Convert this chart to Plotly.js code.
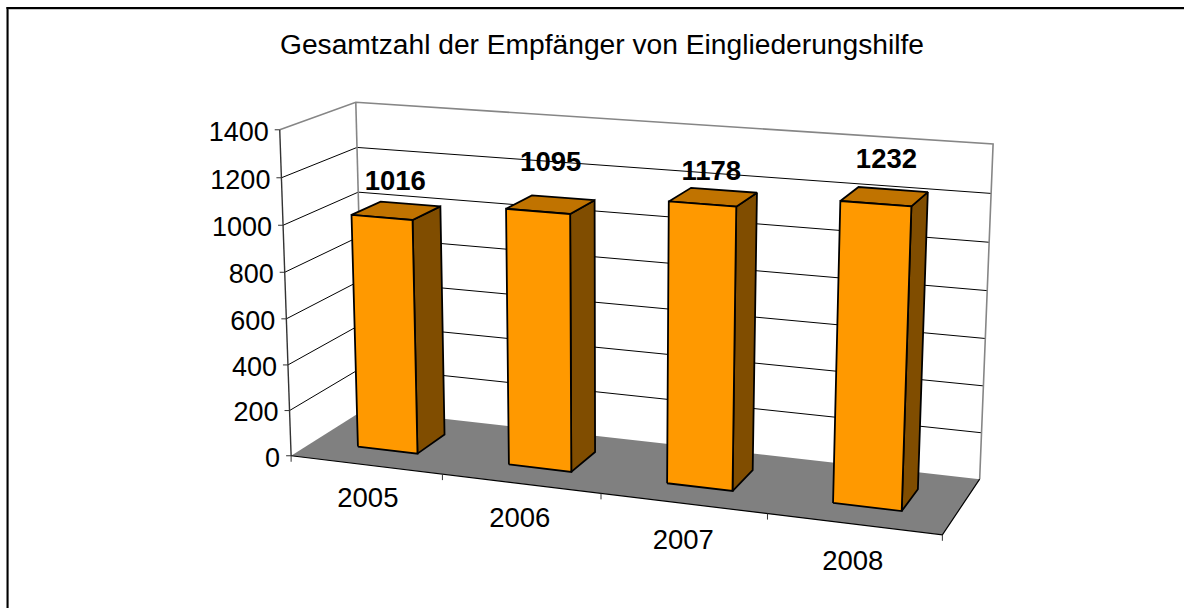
<!DOCTYPE html>
<html><head><meta charset="utf-8">
<script src="https://cdn.plot.ly/plotly-3.0.1.min.js"></script>
<style>html,body{margin:0;padding:0;background:#fff}#c{width:1184px;height:609px}</style>
</head><body><div id="c"></div>
<script>
// ---- chart data ----
const years = ['2005','2006','2007','2008'];
const values = [1016,1095,1178,1232];
const valueTicks = [0,200,400,600,800,1000,1200,1400];
const chartTitle = 'Gesamtzahl der Empfänger von Eingliederungshilfe';
// ---- placement of data labels relative to the bar-top centre (pixels) ----
const labelShiftY = [-28,-40,-24,-35];
const labelShiftX = [-1,0,-2,2];
const yearShiftX = [2,-1,0,-1];
const yearShiftY = [35,36,39,39];

const COL = {front:'#FF9900', top:'#C07300', side:'#804D00', floor:'#808080', wall:'#868686', ink:'#000000', axis:'#333333'};
const FONT = '"Liberation Sans", Arial, sans-serif';
const W = 1184, H = 609, VMAX = 1400, N = years.length;
const U0=.3,U1=.7,V0=.3,V1=.7;

// Perspective camera of the 3-D box, calibrated on box corners, ticks and bar corners.
const calib = [
 [0,0,0,292,457],[4,0,0,942,535],[4,1,0,979,479],[0,1,0,357,413],
 [0,0,1400,278,131],[0,1,1400,358,102],[4,1,1400,994,144],
 [1,0,0,443,475],[2,0,0,601,495],[3,0,0,768,516],
 [0,1,1200,358,148],[0,1,1000,360,193],
 [0,0,1200,280,177],[0,0,1000,282,225],[0,0,800,285,272],[0,0,600,287,318],[0,0,400,288,365],[0,0,200,290,409],
 [U0,V0,1016,352,216],[U1,V0,1016,412,220],[U1,V1,1016,441,207],[U0,V1,1016,380,202],
 [U0,V0,0,359,446],[U1,V0,0,419,452],[U1,V1,0,447,433],
 [1+U0,V0,1095,505,208],[1+U1,V0,1095,571,214],[1+U1,V1,1095,594,200],[1+U0,V1,1095,532,194],
 [1+U0,V0,0,508,463],[1+U1,V0,0,572,472],[1+U1,V1,0,596,450],
 [2+U0,V0,1178,669,202],[2+U1,V0,1178,735,207],[2+U1,V1,1178,756,192],[2+U0,V1,1178,691,187],
 [2+U0,V0,0,667,483],[2+U1,V0,0,733,491],[2+U1,V1,0,753,470],
 [3+U0,V0,1232,839,200],[3+U1,V0,1232,911,207],[3+U1,V1,1232,929,193],[3+U0,V1,1232,859,187],
 [3+U0,V0,0,833,502],[3+U1,V0,0,902,512],[3+U1,V1,0,917,489]
];
function solve(A,b){const n=b.length;const M=A.map((r,i)=>r.concat(b[i]));
 for(let i=0;i<n;i++){let p=i;for(let k=i+1;k<n;k++)if(Math.abs(M[k][i])>Math.abs(M[p][i]))p=k;
  [M[i],M[p]]=[M[p],M[i]];
  for(let k=0;k<n;k++){if(k===i)continue;const f=M[k][i]/M[i][i];for(let j=i;j<=n;j++)M[k][j]-=f*M[i][j];}}
 return M.map((r,i)=>r[n]/r[i]);}
function fitCamera(){const rows=[],rhs=[];
 calib.forEach(([u,v,z,X,Y])=>{const a=u/4,c=z/VMAX;
  rows.push([a,v,c,1,0,0,0,0,-X*a,-X*v,-X*c]);rhs.push(X);
  rows.push([0,0,0,0,a,v,c,1,-Y*a,-Y*v,-Y*c]);rhs.push(Y);});
 const A=[],b=[];for(let i=0;i<11;i++){A.push([]);for(let j=0;j<11;j++){let s=0;rows.forEach(r=>s+=r[i]*r[j]);A[i].push(s);}
  let s=0;rows.forEach((r,k)=>s+=r[i]*rhs[k]);b.push(s);}
 return solve(A,b);}
const P=fitCamera();
function proj(u,v,z){const a=u/4,c=z/VMAX,d=P[8]*a+P[9]*v+P[10]*c+1;
 return [(P[0]*a+P[1]*v+P[2]*c+P[3])/d,(P[4]*a+P[5]*v+P[6]*c+P[7])/d];}

const traces=[];
function poly(pts,fill,lineColor,lw){const cl=pts.concat([pts[0]]);
 traces.push({type:'scatter',mode:'lines',x:cl.map(p=>p[0]),y:cl.map(p=>p[1]),fill:'toself',fillcolor:fill,
  line:{color:lineColor||fill,width:lw===undefined?0:lw,simplify:false},hoverinfo:'skip',showlegend:false});}
function line(pts,color,lw){traces.push({type:'scatter',mode:'lines',x:pts.map(p=>p[0]),y:pts.map(p=>p[1]),
  line:{color:color,width:lw,simplify:false},hoverinfo:'skip',showlegend:false});}
function text(x,y,s,pos,size,bold){traces.push({type:'scatter',mode:'text',x:x,y:y,text:s,textposition:pos,
  textfont:{family:FONT,size:size,color:'#000',weight:bold?700:400},hoverinfo:'skip',showlegend:false});}

// floor
poly([proj(0,0,0),proj(N,0,0),proj(N,1,0),proj(0,1,0)],COL.floor);
// grid lines on side wall and back wall
valueTicks.forEach(t=>{ if(t===0||t===VMAX) return;
 line([proj(0,0,t),proj(0,1,t),proj(N,1,t)],'#000',1);
});
// wall outlines
line([proj(0,0,VMAX),proj(0,1,VMAX),proj(N,1,VMAX),proj(N,1,0)],COL.wall,1.6);
line([proj(0,1,VMAX),proj(0,1,0)],COL.wall,1.6);
// axes and ticks
line([proj(0,0,0),proj(0,0,VMAX)],COL.axis,1.4);
line([proj(0,0,0),proj(N,0,0),proj(N,1,0)],'#000',1.2);
valueTicks.forEach(t=>{const a=proj(0,0,t);line([[a[0]-5,a[1]],a],COL.axis,1);});
for(let i=0;i<=N;i++){const a=proj(i,0,0);line([a,[a[0],a[1]+6]],COL.axis,1);}
// bars
values.forEach((val,i)=>{const a=i+U0,b=i+U1;
 poly([proj(b,V0,0),proj(b,V1,0),proj(b,V1,val),proj(b,V0,val)],COL.side,'#000',1.8);
 poly([proj(a,V0,val),proj(b,V0,val),proj(b,V1,val),proj(a,V1,val)],COL.top,'#000',1.8);
 poly([proj(a,V0,0),proj(b,V0,0),proj(b,V0,val),proj(a,V0,val)],COL.front,'#000',1.8);
});
// value-axis tick labels
const vl=valueTicks.map(t=>proj(0,0,t));
text(vl.map(p=>p[0]-11),vl.map(p=>p[1]+4),valueTicks.map(String),'middle left',27,false);
// category labels
const cl=years.map((y,i)=>proj(i+.5,0,0));
text(cl.map((p,i)=>p[0]+yearShiftX[i]),cl.map((p,i)=>p[1]+yearShiftY[i]),years,'middle center',27.5,false);
// data labels
const dl=values.map((v,i)=>{const p=proj(i+.5,.5,v);return [p[0]+labelShiftX[i],p[1]+labelShiftY[i]];});
text(dl.map(p=>p[0]),dl.map(p=>p[1]),values.map(String),'middle center',27.5,true);

const layout={width:W,height:H,margin:{l:0,r:0,t:0,b:0},paper_bgcolor:'#fff',plot_bgcolor:'#fff',showlegend:false,
 title:{text:chartTitle,x:602/W,y:1-44/H,xanchor:'center',yanchor:'middle',xref:'paper',yref:'paper',automargin:false,font:{family:FONT,size:28.2,color:'#000'}},
 xaxis:{range:[0,W],visible:false,fixedrange:true},
 yaxis:{range:[H,0],visible:false,fixedrange:true},
 shapes:[
  {type:'line',xref:'x',yref:'y',x0:7,y0:9.5,x1:W,y1:9.5,line:{color:'#c8c8c8',width:1}},
  {type:'line',xref:'x',yref:'y',x0:8.5,y0:9.5,x1:8.5,y1:608,line:{color:'#c8c8c8',width:1}},
  {type:'line',xref:'x',yref:'y',x0:6.5,y0:8,x1:W,y1:8,line:{color:'#000',width:2}},
  {type:'line',xref:'x',yref:'y',x0:7.5,y0:7,x1:7.5,y1:608,line:{color:'#000',width:2}}
 ]};
Plotly.newPlot('c',traces,layout,{staticPlot:true,displayModeBar:false});
</script></body></html>
